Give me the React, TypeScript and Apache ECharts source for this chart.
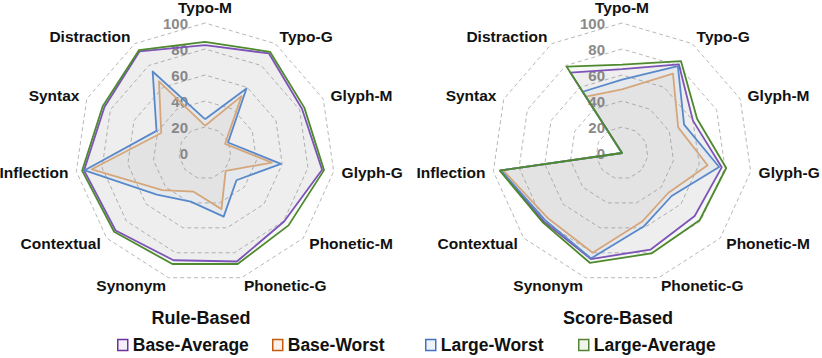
import React, { useEffect, useRef } from 'react';
import * as echarts from 'echarts';

// Categories in clockwise order starting at the top
const categories = ['Typo-M', 'Typo-G', 'Glyph-M', 'Glyph-G', 'Phonetic-M', 'Phonetic-G', 'Synonym', 'Contextual', 'Inflection', 'Syntax', 'Distraction'];
const seriesNames = ['Base-Average', 'Base-Worst', 'Large-Worst', 'Large-Average'];
const chartTitles = ['Rule-Based', 'Score-Based'];
const tickValues = [0, 20, 40, 60, 80, 100];

// Rule-Based values (clockwise order)
const ruleBaseAverage = [83, 91, 82, 91, 80.5, 87, 86, 91, 94, 85, 93];
const ruleBaseWorst = [21, 52, 17, 52, 21, 45, 31, 43.5, 88, 37, 65.5];
const ruleLargeWorst = [26, 59, 19.5, 59, 32, 51, 39, 49, 93.5, 41, 74.5];
const ruleLargeAverage = [85.5, 92.5, 84, 92.5, 85, 89, 89, 92.5, 95.5, 86.5, 94];

// Score-Based values (clockwise order)
const scoreBaseAverage = [64.5, 81, 60, 77.5, 74, 77.5, 85, 80, 94.5, 0, 73.5];
const scoreBaseWorst = [49, 72.5, 47.5, 66.5, 47, 55, 80, 76, 92.5, 0, 51.5];
const scoreLargeWorst = [56.5, 79.5, 52.5, 75.5, 50.5, 59, 84.5, 78.5, 94, 0, 56];
const scoreLargeAverage = [68, 84, 63.5, 81, 79, 80.5, 88, 81, 95, 0, 79];

const lineColors = ['#8151C2', '#E6AC7C', '#5B8AD4', '#4E8A2E'];
const legendBorders = ['#7030A0', '#C55A11', '#4472C4', '#548235'];
const legendFills = ['#F3EEF8', '#FBF1EA', '#EEF3FA', '#F0F5EC'];

const FONT = '"Liberation Sans", Arial, sans-serif';

export default function App() {
  const ref = useRef<HTMLDivElement>(null);
  useEffect(() => {
    document.body.style.margin = '0';
    const chart = echarts.init(ref.current!, null, { renderer: 'svg' });
    // ECharts lays indicators counter-clockwise; reorder to draw clockwise
    const order = [0, ...categories.map((_, i) => i).slice(1).reverse()];
    const reorder = (arr: number[]) => order.map((i) => arr[i]);
    const indicator = order.map((i, k) => {
      const ind: any = { name: categories[i], min: tickValues[0], max: tickValues[tickValues.length - 1] };
      if (k === 0) ind.axisLabel = { show: true };
      return ind;
    });
    const centers = [[205, 153], [622, 153]];
    const radar = centers.map((c) => ({
      center: c,
      radius: 130,
      startAngle: 90,
      splitNumber: tickValues.length - 1,
      shape: 'polygon',
      indicator,
      nameGap: 8,
      axisName: { color: '#111', fontSize: 15.5, fontWeight: 'bold', fontFamily: FONT },
      axisLine: { show: false },
      axisTick: { show: false },
      axisLabel: {
        show: false,
        color: '#8a8a8a',
        fontSize: 15,
        fontWeight: 'bold',
        fontFamily: FONT,
        margin: 17,
      },
      splitLine: { lineStyle: { color: '#b8b8b8', type: [4, 3], width: 1 } },
      splitArea: { show: false },
    }));
    const datasets = [
      [ruleBaseAverage, ruleBaseWorst, ruleLargeWorst, ruleLargeAverage],
      [scoreBaseAverage, scoreBaseWorst, scoreLargeWorst, scoreLargeAverage],
    ];
    const series: any[] = [];
    datasets.forEach((set, r) => {
      set.forEach((vals, k) => {
        series.push({
          type: 'radar',
          radarIndex: r,
          name: seriesNames[k],
          symbol: 'none',
          z: 2 + k,
          lineStyle: { color: lineColors[k], width: 1.8 },
          itemStyle: { color: lineColors[k] },
          areaStyle: { color: lineColors[k], opacity: 0.06 },
          data: [{ name: seriesNames[k], value: reorder(vals) }],
        });
      });
    });
    const legendLefts = [112, 267, 420, 573];
    chart.setOption({
      animation: false,
      title: chartTitles.map((t, i) => ({
        text: t,
        left: centers[i][0] - 9,
        top: 304,
        textAlign: 'center',
        textStyle: { fontSize: 18, fontWeight: 'bold', color: '#111', fontFamily: FONT },
      })),
      legend: seriesNames.map((n, k) => ({
        top: 331,
        left: legendLefts[k],
        icon: 'rect',
        itemWidth: 10,
        itemHeight: 11,
        itemGap: 5,
        textStyle: { fontSize: 17.5, fontWeight: 'bold', color: '#111', fontFamily: FONT },
        data: [
          {
            name: n,
            itemStyle: { color: legendFills[k], borderColor: legendBorders[k], borderWidth: 1.5 },
          },
        ],
      })),
      radar,
      series,
    });
    return () => chart.dispose();
  }, []);
  return <div ref={ref} style={{ width: 822, height: 358 }} />;
}
